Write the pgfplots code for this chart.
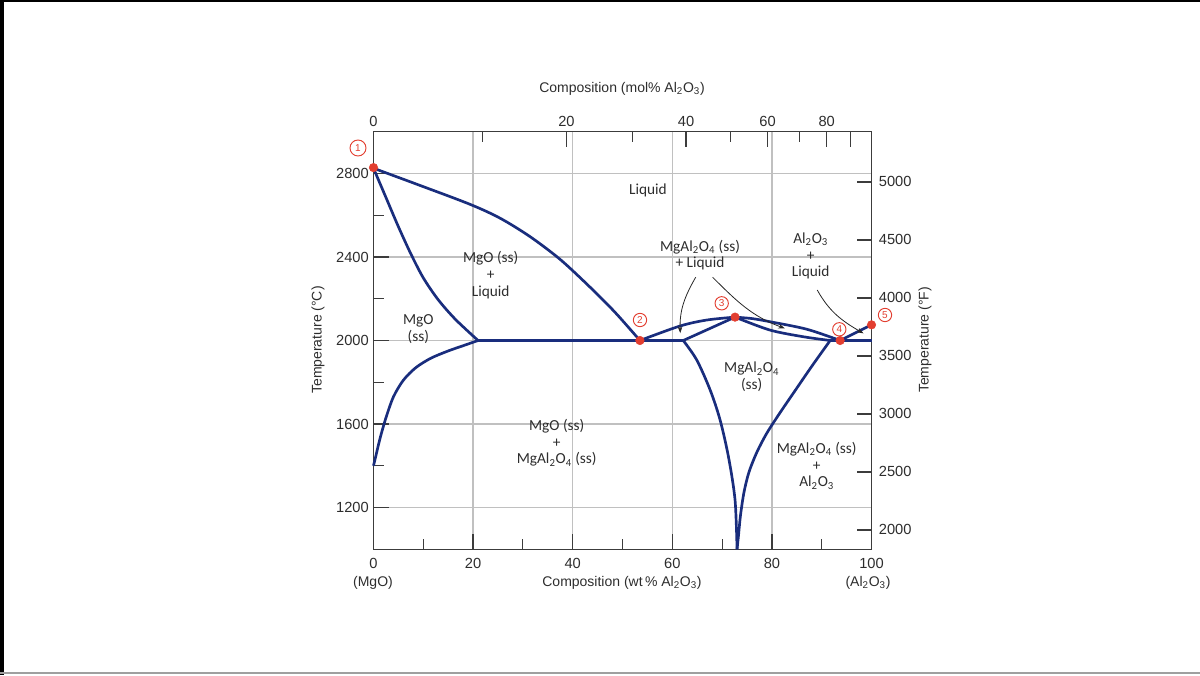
\documentclass[border=0pt]{standalone}
\usepackage{pgfplots}
\pgfplotsset{compat=1.18}
\usepackage{fontspec}
\setmainfont{Liberation Sans}
\newfontfamily\lbl{Carlito}
\usetikzlibrary{arrows.meta}
\definecolor{navy}{RGB}{25,45,125}
\definecolor{dotred}{RGB}{226,62,48}
\definecolor{gridgray}{RGB}{192,192,192}
\definecolor{axgray}{RGB}{60,60,60}
\definecolor{txt}{RGB}{45,45,45}
\pgfplotsset{
  base/.style={
    at={(280.125pt,94.275pt)}, anchor=south west, scale only axis,
    width=373.5pt, height=313.2pt,
    xmin=0, xmax=100,
    tick align=inside,
    major tick length=11.25pt, minor tick length=7.5pt,
    major tick style={axgray, line width=1.1pt},
    minor tick style={axgray, line width=0.8pt},
    axis line style={axgray, line width=0.8pt},
    tick label style={font=\fontsize{11}{13}\selectfont, text=txt},
    /pgf/number format/assume math mode=true,
    /pgf/number format/1000 sep={},
  }
}
\begin{document}
\begin{tikzpicture}
\begin{scope}[x=0.75pt,y=0.75pt]
\path[use as bounding box] (0,0) rectangle (1200,675);
\fill[black] (0,0) rectangle (4,675);
\fill[black] (0,673) rectangle (1200,675);
\fill[gray!75] (0,1) rectangle (1200,3.3);
\end{scope}

% top axis: mol% Al2O3
\begin{axis}[base,
  ymin=0, ymax=1,
  axis y line=none, axis x line*=top,
  xtick={0,38.74,62.78,79.14,91.01,95.79},
  xticklabels={0,20,40,60,80,{}},
  minor xtick={21.94,52.02,71.67,85.51},
]
\end{axis}

% right axis: deg F
\begin{axis}[base,
  ymin=1832, ymax=5432,
  axis x line=none, axis y line*=right,
  ytick={2000,2500,...,5000},
  yticklabel style={xshift=2pt},
]
\end{axis}

% main axis
\begin{axis}[base,
  ymin=1000, ymax=3000,
  xtick={0,20,40,60,80,100},
  minor xtick={10,30,50,70,90},
  ytick={1200,1600,2000,2400,2800},
  minor ytick={1400,1800,2200,2600},
  xtick pos=bottom, ytick pos=left,
  xticklabel style={yshift=-3pt},
  grid=major,
  major grid style={gridgray, line width=1.1pt},
  clip=false,
]
% MgO liquidus
\addplot[navy, line width=2pt, smooth] coordinates {(0,2825) (9.3,2743) (19.4,2652) (25.4,2586) (31.4,2498) (37.5,2388) (43.5,2255) (48.5,2135) (53.5,2000)};
% MgO solidus
\addplot[navy, line width=2pt, smooth] coordinates {(0,2825) (2.5,2685) (5,2545) (7.5,2415) (10,2300) (13,2195) (16.5,2100) (21,2000)};
% MgO solvus
\addplot[navy, line width=2pt, smooth] coordinates {(0,1400) (0.5,1450) (1.3,1530) (2.5,1630) (4,1730) (6,1810) (8.5,1870) (11.5,1915) (15,1950) (18,1975) (21,2000)};
% eutectic lines
\addplot[navy, line width=2.4pt] coordinates {(21,2000) (62.2,2000)};
\addplot[navy, line width=2.4pt] coordinates {(91.7,2000) (100,2000)};
% spinel liquidus left and right
\addplot[navy, line width=2pt, smooth] coordinates {(53.5,2000) (61.5,2069) (66.9,2098) (72.6,2112)};
\addplot[navy, line width=2pt, smooth] coordinates {(72.6,2112) (76,2105) (79.6,2090) (87,2054) (93.7,2000)};
% spinel solidus left and right
\addplot[navy, line width=2pt] coordinates {(62.2,2000) (72.6,2112)};
\addplot[navy, line width=2pt, smooth] coordinates {(72.6,2112) (79.6,2050) (86.3,2018) (91.7,2000)};
% Al2O3 liquidus
\addplot[navy, line width=2pt] coordinates {(93.7,2000) (100,2075)};
% spinel solvus left and right
\addplot[navy, line width=2pt, smooth] coordinates {(62.2,2000) (64.9,1907) (67.6,1763) (69.6,1619) (71.3,1440) (72.6,1236) (73.0,1000)};
\addplot[navy, line width=2pt, smooth] coordinates {(91.7,2000) (88.05,1878) (84.6,1758) (81.6,1653) (79.0,1557) (77.0,1466) (75.4,1370) (74.4,1274) (73.7,1164) (73.3,1068) (73.0,1000)};
% arrows
\draw[black!85, line width=0.6pt, -{Stealth[length=5pt,width=3.5pt]}] (axis cs:64.7,2303) to[out=240,in=92] (axis cs:61.6,2035);
\draw[black!85, line width=0.6pt, -{Stealth[length=5pt,width=3.5pt]}] (axis cs:68.1,2303) to[out=-45,in=160] (axis cs:82.6,2058);
\draw[black!85, line width=0.6pt, -{Stealth[length=5pt,width=3.5pt]}] (axis cs:89.1,2242) to[out=-61,in=150] (axis cs:98.4,2034);
% invariant points
\addplot[only marks, mark=*, mark size=3.2pt, mark options={draw=dotred, fill=dotred}] coordinates {(0,2828) (53.5,2000) (72.6,2112) (93.7,2000) (100,2075)};
\end{axis}

\begin{scope}[x=0.75pt,y=0.75pt]
\tikzset{num/.style={circle, draw=dotred, text=dotred, line width=0.7pt, inner sep=0pt, minimum size=10pt, font=\fontsize{7.5}{7.5}\selectfont}}
\node[num, minimum size=12pt] at (358,527) {1};
\node[num] at (640,355) {2};
\node[num] at (721.7,371.7) {3};
\node[num] at (839.3,345.7) {4};
\node[num] at (885,360) {5};

\tikzset{ttl/.style={font=\fontsize{10.5}{12}\selectfont, text=txt}}
\node[ttl] at (622,586) {Composition (mol\% Al\textsubscript{2}O\textsubscript{3})};
\node[ttl] at (622,92) {Composition (wt\,\% Al\textsubscript{2}O\textsubscript{3})};
\node[ttl] at (373,92) {(MgO)};
\node[ttl] at (868,92) {(Al\textsubscript{2}O\textsubscript{3})};
\node[ttl, rotate=90] at (318,335) {Temperature (°C)};
\node[ttl, rotate=90] at (925,335) {Temperature (°F)};

\tikzset{reg/.style={align=center, text=txt, font=\lbl\fontsize{11.5}{12.5}\selectfont}}
\node[reg] at (648,485) {Liquid};
\node[reg] at (490.7,400) {MgO (ss)\\+\\Liquid};
\node[reg] at (418.3,346) {MgO\\(ss)};
\node[reg] at (700,420) {MgAl\textsubscript{2}O\textsubscript{4} (ss)\\+ Liquid};
\node[reg] at (810.7,419) {Al\textsubscript{2}O\textsubscript{3}\\+\\Liquid};
\node[reg] at (751.7,298.3) {MgAl\textsubscript{2}O\textsubscript{4}\\(ss)};
\node[reg] at (556.7,232) {MgO (ss)\\+\\MgAl\textsubscript{2}O\textsubscript{4} (ss)};
\node[reg] at (816.7,209.2) {MgAl\textsubscript{2}O\textsubscript{4} (ss)\\+\\Al\textsubscript{2}O\textsubscript{3}};
\end{scope}
\end{tikzpicture}
\end{document}
